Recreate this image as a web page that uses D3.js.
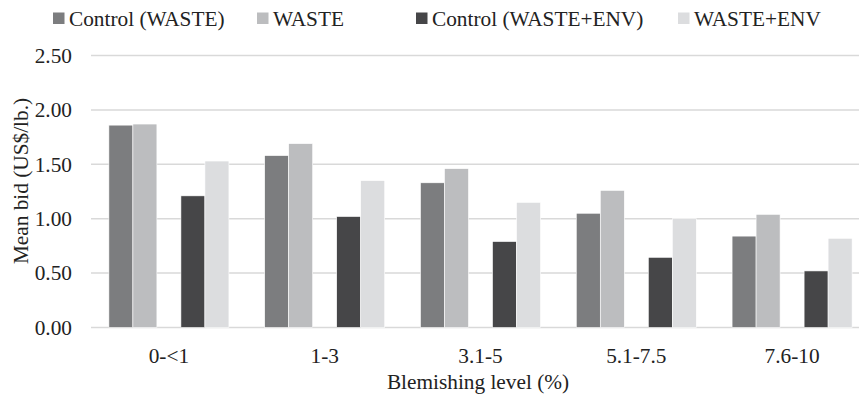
<!DOCTYPE html>
<html>
<head>
<meta charset="utf-8">
<script src="https://cdn.jsdelivr.net/npm/d3@7"></script>
<style>
  html, body { margin: 0; padding: 0; background: #fff; }
</style>
</head>
<body>
<svg id="chart" width="859" height="397" font-family="Liberation Serif"></svg>
<script>
// ---- data ----
const categories = ["0-<1", "1-3", "3.1-5", "5.1-7.5", "7.6-10"];
const seriesNames = ["Control (WASTE)", "WASTE", "Control (WASTE+ENV)", "WASTE+ENV"];
const controlWaste = [1.86, 1.58, 1.33, 1.05, 0.84];
const waste = [1.87, 1.69, 1.46, 1.26, 1.04];
const controlWasteEnv = [1.21, 1.02, 0.79, 0.645, 0.52];
const wasteEnv = [1.53, 1.35, 1.15, 1.00, 0.82];
const yTicks = [0, 0.5, 1.0, 1.5, 2.0, 2.5];
const yTitle = "Mean bid (US$/lb.)";
const xTitle = "Blemishing level (%)";

const seriesValues = [controlWaste, waste, controlWasteEnv, wasteEnv];
const colors = ["#7c7d7f", "#bcbdbf", "#464648", "#dcdddf"];
const FONT = "Liberation Serif";
const FS = 21.3;

// ---- layout ----
const svg = d3.select("#chart");
const x0 = d3.scaleBand().domain(categories).range([91, 870]).paddingInner(0.2295).paddingOuter(0.1148);
const slots = [seriesNames[0], seriesNames[1], "__gap__", seriesNames[2], seriesNames[3]];
const x1 = d3.scaleBand().domain(slots).range([0, x0.bandwidth()]);
const y = d3.scaleLinear().domain([0, 2.5]).range([327.5, 55.5]);

// gridlines
svg.append("g").selectAll("line").data(yTicks).join("line")
  .attr("x1", 91).attr("x2", 859)
  .attr("y1", d => y(d)).attr("y2", d => y(d))
  .attr("stroke", "#d9d9d9").attr("stroke-width", 1.5);

// y axis labels
const yAxis = d3.axisLeft(y).tickValues(yTicks).tickFormat(d3.format(".2f")).tickSize(0).tickPadding(0);
const gy = svg.append("g").attr("transform", "translate(72,0)").call(yAxis);
gy.attr("font-family", FONT).attr("font-size", FS);
gy.select(".domain").remove();
gy.selectAll("text").attr("font-family", FONT).attr("font-size", FS).attr("fill", "#222");

// bars
seriesValues.forEach((vals, si) => {
  svg.append("g").selectAll("rect").data(vals.map((v, i) => ({cat: categories[i], v})))
    .join("rect")
    .attr("x", d => x0(d.cat) + x1(seriesNames[si]))
    .attr("width", x1.bandwidth())
    .attr("y", d => y(d.v))
    .attr("height", d => y(0) - y(d.v))
    .attr("fill", colors[si])
    .attr("stroke", "#ffffff").attr("stroke-width", 0.6);
});

// x axis labels
const xAxis = d3.axisBottom(x0).tickSize(0).tickPadding(0);
const gx = svg.append("g").attr("transform", "translate(0,347.5)").call(xAxis);
gx.attr("font-family", FONT).attr("font-size", FS);
gx.select(".domain").remove();
gx.selectAll("text").attr("font-family", FONT).attr("font-size", FS).attr("fill", "#222");

// axis titles
svg.append("text").attr("x", 478).attr("y", 389).attr("text-anchor", "middle")
  .attr("font-family", FONT).attr("font-size", FS).attr("fill", "#222").text(xTitle);
svg.append("text").attr("transform", "translate(28,181) rotate(-90)").attr("text-anchor", "middle")
  .attr("font-family", FONT).attr("font-size", FS).attr("fill", "#222").text(yTitle);

// legend
const legendX = [53, 257, 416, 678];
const lg = svg.append("g");
seriesNames.forEach((name, i) => {
  const g = lg.append("g").attr("transform", `translate(${legendX[i]},0)`);
  g.append("rect").attr("x", 0).attr("y", 12.5).attr("width", 11.5).attr("height", 11.5).attr("fill", colors[i]);
  g.append("text").attr("x", 16).attr("y", 25.5)
    .attr("font-family", FONT).attr("font-size", FS).attr("fill", "#222").text(name);
});
</script>
</body>
</html>
